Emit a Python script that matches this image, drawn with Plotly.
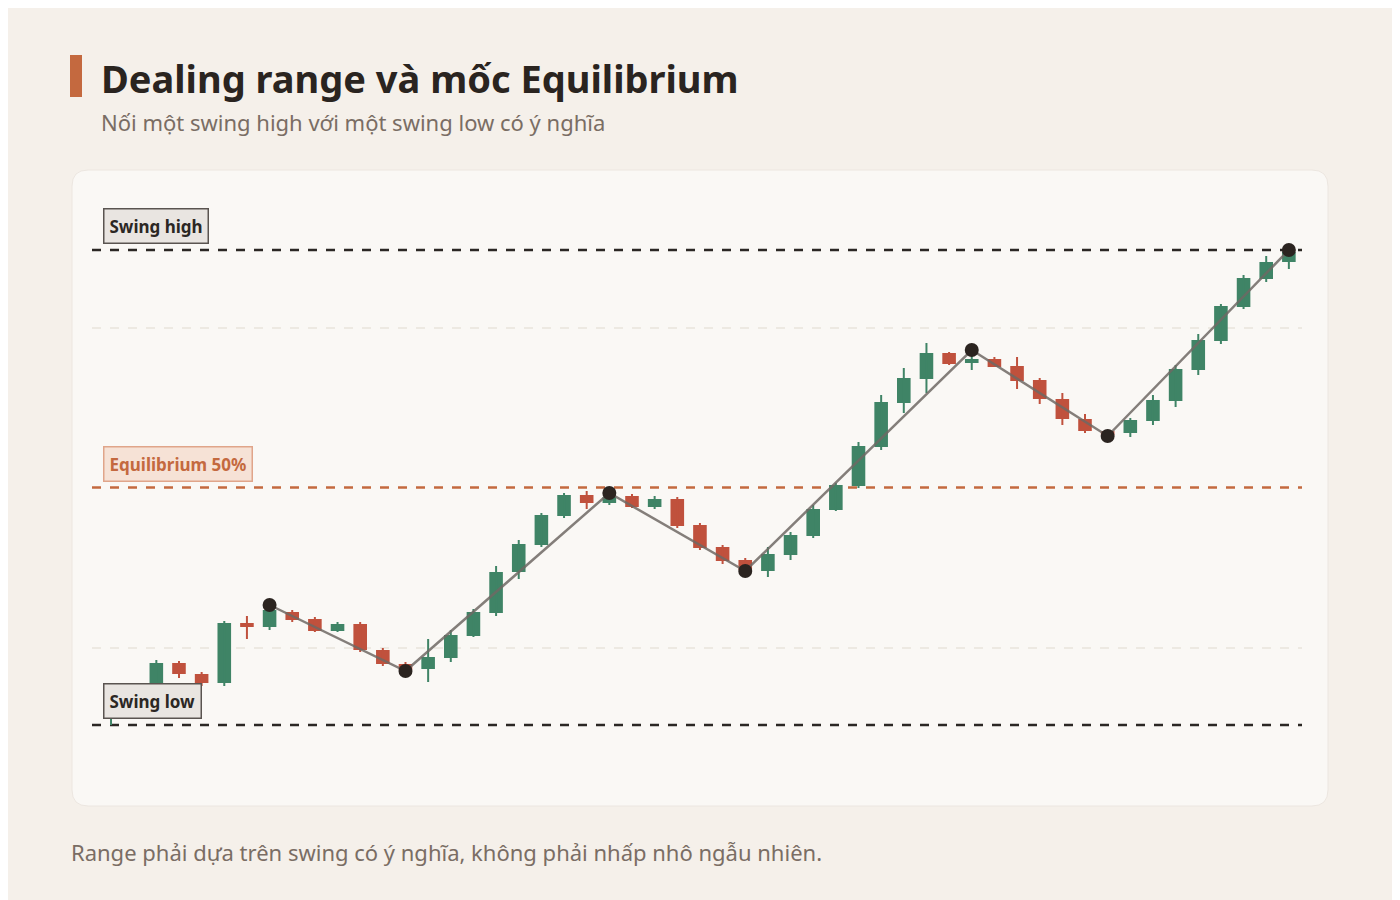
import plotly.graph_objects as go

opens  = [1281,1288,1315,1337,1326,1317,1377,1373,1388,1381,1369,1376,1350,1336,1331,1342,1364,1387,1428,1455,1484,1505,1497,1504,1493,1501,1475,1453,1440,1429,1445,1464,1490,1514,1553,1597,1621,1647,1637,1641,1634,1620,1601,1581,1569,1567,1579,1599,1630,1659,1693,1721,1738]
highs  = [1288,1310,1340,1339,1328,1379,1384,1395,1390,1383,1378,1378,1352,1338,1361,1370,1391,1434,1460,1487,1507,1509,1507,1506,1504,1503,1477,1455,1442,1453,1468,1495,1517,1558,1605,1632,1657,1648,1650,1643,1643,1622,1607,1586,1570,1582,1605,1635,1666,1696,1725,1744,1750]
lows   = [1275,1284,1312,1322,1314,1314,1361,1370,1378,1368,1368,1348,1334,1329,1318,1338,1363,1384,1421,1453,1482,1491,1495,1492,1491,1472,1450,1436,1429,1423,1440,1462,1489,1512,1550,1587,1607,1635,1630,1633,1611,1596,1575,1567,1564,1563,1575,1593,1625,1656,1691,1718,1731]
closes = [1286,1305,1337,1326,1317,1377,1373,1390,1380,1369,1376,1350,1336,1330,1343,1365,1388,1428,1456,1485,1505,1497,1503,1493,1501,1474,1452,1439,1430,1446,1465,1491,1515,1554,1598,1622,1647,1636,1641,1633,1619,1601,1581,1569,1565,1580,1600,1631,1660,1694,1722,1738,1748]
idx = list(range(len(opens)))

swing_idx = [7, 13, 22, 28, 38, 44, 52]
swing_px = [1395, 1329, 1507, 1429, 1650, 1564, 1750]
swing_low, swing_high = 1275, 1750
equilibrium = (swing_low + swing_high) / 2
grid_vals = [1352, 1672]

GREEN, RED, ORANGE, DARK = "#3f8466", "#c0513d", "#c4693f", "#2b2724"
FONT = "Noto Sans"

OFF = 8  # browser body margin
L, R, T, B = 92 - OFF, 98, 200 - OFF, 115
FW, FH = 1400 - OFF, 900 - OFF
W, H = FW - L - R, FH - T - B
def px(x): return (x - OFF - L) / W
def py(y): return (FH - B - (y - OFF)) / H

fig = go.Figure()
for up, col in [(True, GREEN), (False, RED)]:
    sel = [i for i in idx if (closes[i] >= opens[i]) == up]
    wx, wy = [], []
    for i in sel:
        wx += [i, i, None]; wy += [lows[i], highs[i], None]
    fig.add_trace(go.Scatter(x=wx, y=wy, mode="lines", line=dict(color=col, width=2),
                             showlegend=False, hoverinfo="skip"))
    fig.add_trace(go.Bar(x=sel, base=[min(opens[i], closes[i]) for i in sel],
                         y=[max(abs(closes[i] - opens[i]), 1.5) for i in sel],
                         width=0.6, marker=dict(color=col, line=dict(width=0)),
                         showlegend=False, hoverinfo="skip"))
fig.add_trace(go.Scatter(
    x=swing_idx, y=swing_px, mode="lines+markers",
    line=dict(color="rgba(110,104,100,0.85)", width=2.5),
    marker=dict(color="#2b2420", size=14), showlegend=False, hoverinfo="skip"))

x0, x1, y0, y1 = px(72), px(1328), py(806), py(170)
rx, ry = 16 / W, 16 / H
path = (f"M {x0+rx},{y0} L {x1-rx},{y0} Q {x1},{y0} {x1},{y0+ry} L {x1},{y1-ry} Q {x1},{y1} {x1-rx},{y1} "
        f"L {x0+rx},{y1} Q {x0},{y1} {x0},{y1-ry} L {x0},{y0+ry} Q {x0},{y0} {x0+rx},{y0} Z")
shapes = [
    dict(type="path", path=path, xref="paper", yref="paper", fillcolor="#faf8f5",
         line=dict(color="#ece6e0", width=1), layer="below"),
    dict(type="rect", xref="paper", yref="paper", x0=px(70), x1=px(82), y0=py(97), y1=py(55),
         fillcolor=ORANGE, line=dict(width=0)),
]
for g in grid_vals:
    shapes.append(dict(type="line", xref="paper", yref="y", x0=0, x1=1, y0=g, y1=g,
                       line=dict(color="#e9e3dc", width=1.5, dash="dash"), layer="below"))
for val, col in [(swing_high, DARK), (swing_low, DARK), (equilibrium, ORANGE)]:
    shapes.append(dict(type="line", xref="paper", yref="y", x0=0, x1=1, y0=val, y1=val,
                       line=dict(color=col, width=2.5, dash="dash"), layer="below"))

def label(text, yv, bg, border, color):
    return dict(text=f"<b>{text}</b>", xref="paper", yref="y", x=px(103), y=yv, xanchor="left",
                yanchor="bottom", showarrow=False, bgcolor=bg, bordercolor=border, borderwidth=1.5,
                borderpad=5, font=dict(family=FONT, size=17, color=color), yshift=6)

annotations = [
    dict(text="<b>Dealing range và mốc Equilibrium</b>", xref="paper", yref="paper", x=px(99), y=py(78),
         xanchor="left", yanchor="middle", showarrow=False, font=dict(family=FONT, size=38, color="#2a2420")),
    dict(text="Nối một swing high với một swing low có ý nghĩa", xref="paper", yref="paper", x=px(99), y=py(122),
         xanchor="left", yanchor="middle", showarrow=False, font=dict(family=FONT, size=22, color="#7a6d64")),
    dict(text="Range phải dựa trên swing có ý nghĩa, không phải nhấp nhô ngẫu nhiên.", xref="paper", yref="paper",
         x=px(69), y=py(852), xanchor="left", yanchor="middle", showarrow=False,
         font=dict(family=FONT, size=22, color="#7a6d64")),
    label("Swing high", swing_high, "#e9e5e1", "#5a5450", DARK),
    label("Equilibrium 50%", equilibrium, "#f6e2d6", "#e0a58a", ORANGE),
    label("Swing low", swing_low, "#e9e5e1", "#5a5450", DARK),
]

fig.update_layout(
    width=FW, height=FH, margin=dict(l=L, r=R, t=T, b=B),
    paper_bgcolor="#f5f0ea", plot_bgcolor="rgba(0,0,0,0)",
    shapes=shapes, annotations=annotations, showlegend=False, barmode="overlay",
    xaxis=dict(range=[-0.84, 52.58], visible=False, fixedrange=True),
    yaxis=dict(range=[1215, 1800], visible=False, fixedrange=True),
)
fig.write_html("out.html")
